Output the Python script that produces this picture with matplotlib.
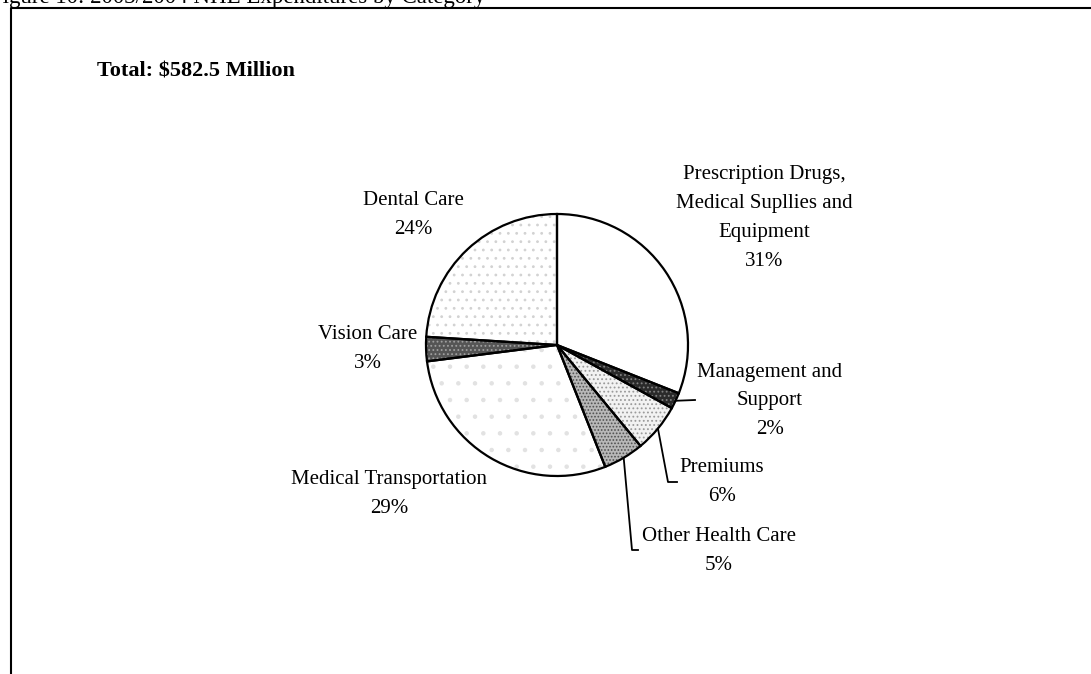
import numpy as np
import matplotlib.pyplot as plt

plt.rcParams['font.family'] = ['Liberation Serif', 'DejaVu Serif']
plt.rcParams['hatch.linewidth'] = 0.8

# data
categories = ['Prescription Drugs,\nMedical Supllies and\nEquipment', 'Management and\nSupport',
              'Premiums', 'Other Health Care', 'Medical Transportation', 'Vision Care', 'Dental Care']
shares = [31, 2, 6, 5, 29, 3, 24]

faces = ['white', '#2a2a2a', '#f2f2f2', '#b8b8b8', 'white', '#555555', 'white']
hatch_cols = ['white', '#808080', '#9a9a9a', '#505050', '#e2e2e2', '#a0a0a0', '#d2d2d2']
hatches = [None, '....', '....', '.....', '.', '....', '..']

W, H = 1091, 674
fig = plt.figure(figsize=(W / 100, H / 100), dpi=100)
ax = fig.add_axes([0, 0, 1, 1])

cx, cy, r = 557, H - 345, 131

# patterned fill
wedges, _ = ax.pie(shares, startangle=90, counterclock=False, center=(cx, cy), radius=r,
                   colors=faces, wedgeprops=dict(linewidth=0), frame=True)
for w, hc, h in zip(wedges, hatch_cols, hatches):
    w.set_edgecolor(hc)
    if h:
        w.set_hatch(h)
# black outlines
outl, _ = ax.pie(shares, startangle=90, counterclock=False, center=(cx, cy), radius=r,
                 wedgeprops=dict(fill=False, edgecolor='black', linewidth=1.6), frame=True)
ax.set_xlim(0, W)
ax.set_ylim(0, H)
ax.set_aspect('equal')
ax.axis('off')

tk = dict(fontsize=15, ha='center', va='center', linespacing=1.7)

def lbl(i, x, y):
    ax.text(x, H - y, categories[i] + '\n' + str(shares[i]) + '%', **tk)

lbl(0, 764, 218)
lbl(1, 770, 401)
lbl(2, 722, 482)
lbl(3, 719, 551)
lbl(4, 389, 494)
lbl(5, 368, 349)
lbl(6, 413, 215)

# leader lines from wedge mid-angles
def edge_pt(w):
    a = np.deg2rad((w.theta1 + w.theta2) / 2)
    return cx + r * np.cos(a), cy + r * np.sin(a)

x0, y0 = edge_pt(wedges[1])
ax.plot([x0, 695], [y0, H - 400], color='black', lw=1.3)
x0, y0 = edge_pt(wedges[2])
ax.plot([x0, 668, 677], [y0, H - 482, H - 482], color='black', lw=1.3)
x0, y0 = edge_pt(wedges[3])
ax.plot([x0, 632, 638], [y0, H - 550, H - 550], color='black', lw=1.3)

# title
ax.text(97, H - 72, 'Total: $582.5 Million', fontsize=16, fontweight='bold', ha='left', va='center')

# caption (cut at the top edge, as in the source scan) and frame
ax.text(-10, H + 2, 'Figure 10: 2003/2004 NHE Expenditures by Category', fontsize=16.5,
        ha='left', va='center', clip_on=False)
ax.plot([10.5, 10.5, W], [0, H - 8, H - 8], color='black', lw=1.5, clip_on=False)

fig.savefig('out.png', dpi=100, facecolor='white')
